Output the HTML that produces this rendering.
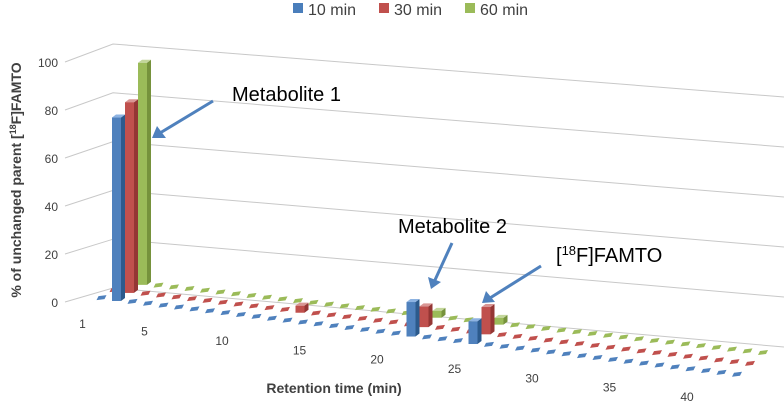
<!DOCTYPE html>
<html><head><meta charset="utf-8">
<style>
body{margin:0;background:#fff;}
svg{display:block;font-family:"Liberation Sans",sans-serif;}
</style></head>
<body>
<svg id="chart" width="784" height="404" viewBox="0 0 784 404" xmlns="http://www.w3.org/2000/svg">
  <g id="grid"></g>
  <g id="ylabels"></g>
  <g id="xlabels"></g>
  <g id="marks"></g>
  <text transform="translate(21,180) rotate(-90)" text-anchor="middle" font-size="14" font-weight="bold" fill="#404040">% of unchanged parent [<tspan font-size="9" dy="-5">18</tspan><tspan dy="5">F]FAMTO</tspan></text>
  <text x="334" y="393" text-anchor="middle" font-size="14" font-weight="bold" fill="#404040">Retention time (min)</text>
  <g font-size="16" fill="#404040">
    <g><rect x="293" y="3" width="10" height="10" fill="#4a7ebb"/><text x="308" y="15">10 min</text></g>
    <g><rect x="379" y="3" width="10" height="10" fill="#c0504d"/><text x="394" y="15">30 min</text></g>
    <g><rect x="465" y="3" width="10" height="10" fill="#9bbb59"/><text x="480" y="15">60 min</text></g>
  </g>
  <g font-size="20" fill="#000">
    <text x="232" y="101">Metabolite 1</text>
    <text x="398" y="233">Metabolite 2</text>
    <text x="556" y="262">[<tspan font-size="13" dy="-7">18</tspan><tspan dy="7">F]FAMTO</tspan></text>
    <g stroke="#4f81bd" stroke-width="3" fill="#4f81bd">
      <line x1="213" y1="101" x2="160" y2="133"/>
      <polygon stroke="none" points="152,138 157,126 166,138"/>
      <line x1="452" y1="243" x2="435" y2="280"/>
      <polygon stroke="none" points="431,289 428,277 441,282"/>
      <line x1="541" y1="266" x2="490" y2="298"/>
      <polygon stroke="none" points="482,303 486,291 495,302"/>
    </g>
  </g>
</svg>
<script>
const categories = Array.from({length:42},(_,i)=>i+1);
const series10 = [0,76,0,0,0,0,0,0,0,0,0,0,0,0,0,0,0,0,0,0,15,0,0,0,10,0,0,0,0,0,0,0,0,0,0,0,0,0,0,0,0,0];
const series30 = [0,79,0,0,0,0,0,0,0,0,0,0,3,0,0,0,0,0,0,0,9,0,0,0,12,0,0,0,0,0,0,0,0,0,0,0,0,0,0,0,0,0];
const series60 = [0,92,0,0,0,0,0,0,0,0,0,0,0,0,0,0,0,0,0,0,3,0,0,0,3,0,0,0,0,0,0,0,0,0,0,0,0,0,0,0,0,0];
const yTicks = [0,20,40,60,80,100];
const xTickLabels = [1,5,10,15,20,25,30,35,40];
const seriesList = [series60, series30, series10];
const colors = [["#9bbb59","#76923c","#c3d69b"],["#c0504d","#943634","#d99694"],["#4f81bd","#2c5a8c","#8db3e2"]];
const NS="http://www.w3.org/2000/svg";
function mk(tag,attrs,parent){const e=document.createElementNS(NS,tag);for(const k in attrs)e.setAttribute(k,attrs[k]);parent.appendChild(e);return e;}
function px(i,r){return 112+(i-2)*15.5+r*13;}
function py(i,r){return 301+(i-2)*1.87-r*(8+(i-1)*0.07);}
function hs(i){return 2.42-(i-1)*0.006;}
const grid=document.getElementById('grid');
function backY(v,x){const yl=288-v*2.44, yr=347-v*2.5;return yl+(yr-yl)*(x-113)/(784-113);}
yTicks.forEach(v=>{
  const l=mk('polyline',{points:`65,${302-v*2.4} 113,${backY(v,113)} 784,${backY(v,784)}`,fill:'none',stroke:'#c8c8c8','stroke-width':1},grid);
  
  
  const t=mk('text',{x:58,y:302-v*2.4+5,'text-anchor':'end','font-size':12,fill:'#404040'},document.getElementById('ylabels'));
  t.textContent=v;
  
  
});
xTickLabels.forEach(c=>{
  const t=mk('text',{x:px(c,0)-14,y:py(c,0)+29,'text-anchor':'middle','font-size':12,fill:'#404040'},document.getElementById('xlabels'));
  t.textContent=c;
  
  
});
const marks=document.getElementById('marks');
seriesList.forEach((s,k)=>{
  const r=2-k; const c=colors[k];
  categories.forEach((cat,idx)=>{
    const v=s[idx]; const x=px(cat,r), y=py(cat,r);
    const w=9, d=4, dy=3;
    if(v<=0){
      const p=mk('polygon',{points:`${x},${y+1} ${x+8},${y} ${x+10},${y-4} ${x+2},${y-3}`,fill:c[0]},marks);
      
      
      return;
    }
    const h=v*hs(cat);
    const g=mk('g',{},marks);
    
    
    mk('polygon',{points:`${x+w},${y} ${x+w+d},${y-dy} ${x+w+d},${y-dy-h} ${x+w},${y-h}`,fill:c[1]},g);
    mk('polygon',{points:`${x},${y-h} ${x+w},${y-h} ${x+w+d},${y-h-dy} ${x+d},${y-h-dy}`,fill:c[2]},g);
    mk('rect',{x:x,y:y-h,width:w,height:h,fill:c[0]},g);
  });
});
</script>
</body></html>
